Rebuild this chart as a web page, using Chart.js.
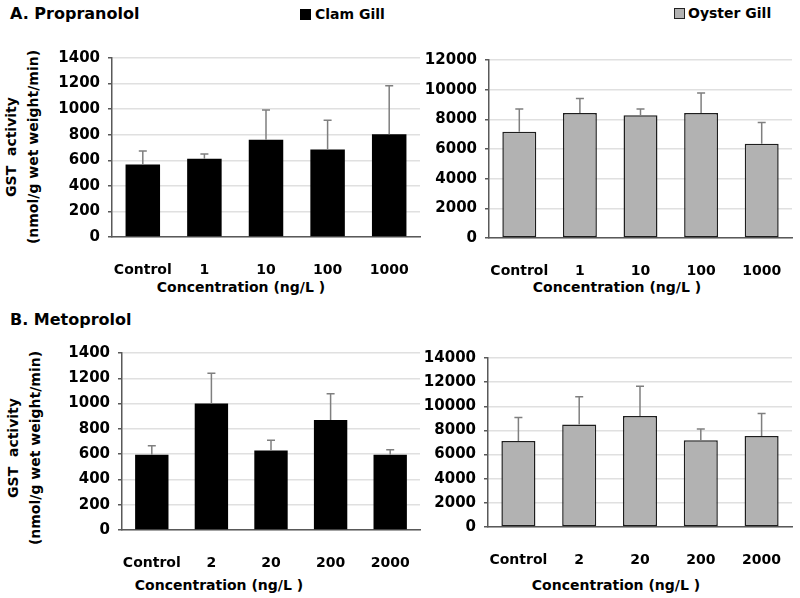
<!DOCTYPE html>
<html>
<head>
<meta charset="utf-8">
<script src="https://cdn.jsdelivr.net/npm/chart.js@4/dist/chart.umd.min.js"></script>
<style>
  body { margin: 0; background: #fff; }
  #wrap { position: relative; width: 800px; height: 598px; overflow: hidden; font-family: 'DejaVu Sans', sans-serif; font-weight: bold; color: #000; }
  #wrap canvas { position: absolute; }
  .txt { position: absolute; white-space: nowrap; }
  .ctr { text-align: center; width: 300px; }
  .sq { position: absolute; width: 11px; height: 11px; box-sizing: border-box; }
  .ytitle { position: absolute; width: 260px; height: 44px; text-align: center; font-size: 14px; line-height: 22px; transform: rotate(-90deg); }
</style>
</head>
<body>
<div id="wrap">
  <div class="txt" style="left:10px;top:3px;font-size:16px;line-height:22px;">A. Propranolol</div>
  <div class="sq" style="left:300px;top:9px;background:#000;"></div>
  <div class="txt" style="left:315px;top:4px;font-size:14px;line-height:20px;">Clam Gill</div>
  <div class="sq" style="left:674px;top:8px;background:#b2b2b2;border:1px solid #222;"></div>
  <div class="txt" style="left:688px;top:3px;font-size:14px;line-height:20px;">Oyster Gill</div>

  <div class="txt" style="left:10px;top:309px;font-size:16px;line-height:22px;">B. Metoprolol</div>

  <div class="ytitle" style="left:-108px;top:125px;">GST&nbsp; activity<br>(nmol/g wet weight/min)</div>
  <div class="ytitle" style="left:-106px;top:426px;">GST&nbsp; activity<br>(nmol/g wet weight/min)</div>

  <div class="txt ctr" style="left:91px;top:277px;font-size:14px;line-height:20px;">Concentration (ng/L )</div>
  <div class="txt ctr" style="left:467px;top:277px;font-size:14px;line-height:20px;">Concentration (ng/L )</div>
  <div class="txt ctr" style="left:69px;top:575px;font-size:14px;line-height:20px;">Concentration (ng/L )</div>
  <div class="txt ctr" style="left:466px;top:575px;font-size:14px;line-height:20px;">Concentration (ng/L )</div>

  <canvas id="c-a-clam" width="430" height="236" style="left:0;top:41px;"></canvas>
  <canvas id="c-a-oyster" width="400" height="235" style="left:400px;top:43px;"></canvas>
  <canvas id="c-b-clam" width="430" height="234" style="left:0;top:336px;"></canvas>
  <canvas id="c-b-oyster" width="400" height="226" style="left:400px;top:341px;"></canvas>
</div>
<script>
// categories
const propranololDoses = ['Control', '1', '10', '100', '1000'];
const metoprololDoses = ['Control', '2', '20', '200', '2000'];

// A. Propranolol
const propClamMean = [567, 612, 760, 685, 803];
const propClamErr = [105, 38, 233, 228, 379];
const propOysterMean = [7160, 8420, 8270, 8420, 6360];
const propOysterErr = [1540, 980, 430, 1350, 1430];

// B. Metoprolol
const metoClamMean = [596, 1000, 629, 870, 596];
const metoClamErr = [71, 239, 81, 208, 38];
const metoOysterMean = [7130, 8500, 9190, 7180, 7530];
const metoOysterErr = [1950, 2300, 2480, 930, 1870];

// axis ranges
const clamMax = 1400, clamStep = 200;
const propOysterMax = 12000, metoOysterMax = 14000, oysterStep = 2000;

const FONT = 'DejaVu Sans';
const AXIS = '#595959';

// upward error bars with a small cap, placed through the y scale
const errorBars = {
  id: 'errorBars',
  afterDatasetsDraw(chart) {
    const ctx = chart.ctx;
    const yScale = chart.scales.y;
    chart.data.datasets.forEach((ds, di) => {
      const meta = chart.getDatasetMeta(di);
      meta.data.forEach((bar, i) => {
        const top = yScale.getPixelForValue(ds.data[i] + ds.errors[i]);
        ctx.save();
        ctx.strokeStyle = '#7f7f7f';
        ctx.lineWidth = 1.5;
        ctx.beginPath();
        ctx.moveTo(bar.x, bar.y);
        ctx.lineTo(bar.x, top);
        ctx.moveTo(bar.x - 4, top);
        ctx.lineTo(bar.x + 4, top);
        ctx.stroke();
        ctx.restore();
      });
    });
  }
};

const makeChart = (id, labels, values, errors, opts) => {
  return new Chart(document.getElementById(id), {
    type: 'bar',
    data: {
      labels,
      datasets: [{
        data: values,
        errors,
        backgroundColor: opts.fill,
        borderColor: opts.border,
        borderWidth: opts.borderWidth,
        borderSkipped: false,
        barPercentage: 0.56,
        categoryPercentage: 1
      }]
    },
    options: {
      responsive: false,
      animation: false,
      events: [],
      layout: { padding: { top: 10, right: opts.padRight, left: 0, bottom: 0 } },
      plugins: { legend: { display: false }, tooltip: { enabled: false } },
      scales: {
        x: {
          grid: { display: false },
          border: { color: AXIS, width: 1.5 },
          ticks: { color: '#000', padding: 17, autoSkip: false, maxRotation: 0, font: { family: FONT, size: 14, weight: 'bold' } },
          afterFit: s => { s.height = 40; }
        },
        y: {
          min: 0,
          max: opts.max,
          grid: { color: '#e0e0e0', lineWidth: 1.5, tickLength: 4, tickColor: AXIS, tickWidth: 1.5 },
          border: { color: AXIS, width: 1.5 },
          ticks: { stepSize: opts.step, color: '#000', padding: 8, callback: v => String(v), font: { family: FONT, size: 15, weight: 'bold' } },
          afterFit: s => { s.width = opts.yWidth; }
        }
      }
    },
    plugins: [errorBars]
  });
};

const clamStyle = { fill: '#000', border: '#000', borderWidth: 0, max: clamMax, step: clamStep, padRight: 10 };
const oysterStyle = { fill: '#b2b2b2', border: '#1e1e1e', borderWidth: 1.5, step: oysterStep, padRight: 8 };

makeChart('c-a-clam', propranololDoses, propClamMean, propClamErr, { ...clamStyle, yWidth: 112 });
makeChart('c-a-oyster', propranololDoses, propOysterMean, propOysterErr, { ...oysterStyle, max: propOysterMax, yWidth: 89 });
makeChart('c-b-clam', metoprololDoses, metoClamMean, metoClamErr, { ...clamStyle, yWidth: 122 });
makeChart('c-b-oyster', metoprololDoses, metoOysterMean, metoOysterErr, { ...oysterStyle, max: metoOysterMax, yWidth: 88 });
</script>
</body>
</html>
